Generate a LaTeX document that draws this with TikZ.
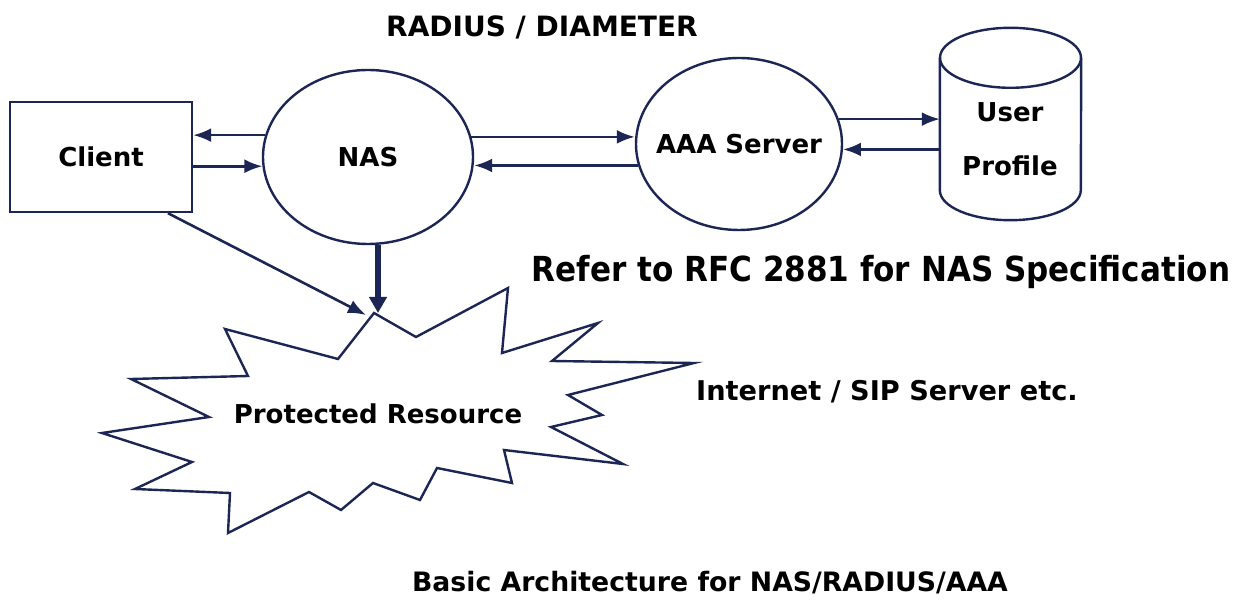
\documentclass[tikz,border=0pt]{standalone}
\usepackage{fontspec}
\setmainfont{DejaVu Sans}
\newfontfamily\condfont{DejaVu Sans Condensed}
\usetikzlibrary{arrows.meta,shapes.geometric}
\definecolor{linec}{RGB}{28,38,84}
\tikzset{
  box/.style={draw=linec,line width=2.4pt,rectangle,inner sep=0pt,minimum width=182pt,minimum height=110pt},
  oval/.style={draw=linec,line width=2.4pt,ellipse,inner sep=0pt},
  lbl/.style={font=\fontsize{26}{30}\selectfont\bfseries,text=black,inner sep=0pt},
  arr/.style={draw=linec,line width=2.6pt,arrows={-Latex[length=18pt,width=14pt]}},
  thick arr/.style={draw=linec,line width=5.5pt,arrows={-Triangle[length=16pt,width=17pt]}},
  shapeline/.style={draw=linec,line width=2.4pt}
}
\begin{document}
\begin{tikzpicture}[x=1pt,y=-1pt]
\useasboundingbox[fill=white] (0,0) rectangle (1243,609);

% nodes
\node[box] (client) at (101,157) {};
\node[lbl] at (client.center) {Client};
\node[oval,minimum width=210pt,minimum height=174pt] (nas) at (368,157) {};
\node[lbl] at (nas.center) {NAS};
\node[oval,minimum width=206pt,minimum height=172pt] (aaa) at (739,144) {};
\node[lbl] at (aaa.center) {AAA Server};

% cylinder
\node[inner sep=0pt,minimum width=141pt,minimum height=132pt] (up) at (1010.5,124) {};
\draw[shapeline] (up.north west) -- (up.south west) arc[start angle=180,end angle=360,x radius=70.5pt,y radius=30pt] -- (up.north east);
\draw[shapeline] (up.north) ellipse[x radius=70.5pt,y radius=30pt];
\node[lbl,align=center,font=\fontsize{26}{54}\selectfont\bfseries] at (1010,139) {User\\Profile};

% starburst
\draw[shapeline] (374,313) -- (416,337) -- (508,288) -- (502,353) -- (598,323) -- (552,361) -- (694,363)
  -- (568,395) -- (602,415) -- (551,427) -- (623,464) -- (504,450) -- (512,483) -- (437,468)
  -- (420,500) -- (373,483) -- (341,510) -- (309,492) -- (228,533) -- (230,493) -- (135,489)
  -- (192,462) -- (102,433) -- (209,417) -- (131,379) -- (248,376) -- (225,329) -- (338,359) -- cycle;
\node[lbl] (res) at (378,414) {Protected Resource};
\coordinate (hitA) at (366,315);
\coordinate (hitB) at (378,313);

% connectors
\draw[arr] (nas.168.9) -- (nas.168.9 -| client.east);
\draw[arr] (client.east |- nas.185.5) -- (nas.185.5);
\draw[arr] (nas.11.1) -- (nas.11.1 -| aaa.west);
\draw[arr] (aaa.192.5) -- (aaa.192.5 -| nas.east);
\draw[arr] (aaa.14.2) -- (aaa.14.2 -| up.west);
\draw[arr] (up.west |- aaa.-3.9) -- (aaa.-3.9);
\draw[arr] (client.-40.2) -- (hitA);
\draw[thick arr] (nas.south -| hitB) -- (hitB);

% texts
\node[lbl,font=\fontsize{28}{30}\selectfont\bfseries] (radius) at (542,27) {RADIUS / DIAMETER};
\node[lbl,font=\fontsize{34.5}{36}\selectfont\bfseries\condfont] (rfc) at (881,272) {Refer to RFC 2881 for NAS Specification};
\node[lbl,font=\fontsize{27.2}{30}\selectfont\bfseries] (inet) at (887,392) {Internet / SIP Server etc.};
\node[lbl,font=\fontsize{26.7}{30}\selectfont\bfseries] (caption) at (710,583) {Basic Architecture for NAS/RADIUS/AAA};
\end{tikzpicture}
\end{document}
